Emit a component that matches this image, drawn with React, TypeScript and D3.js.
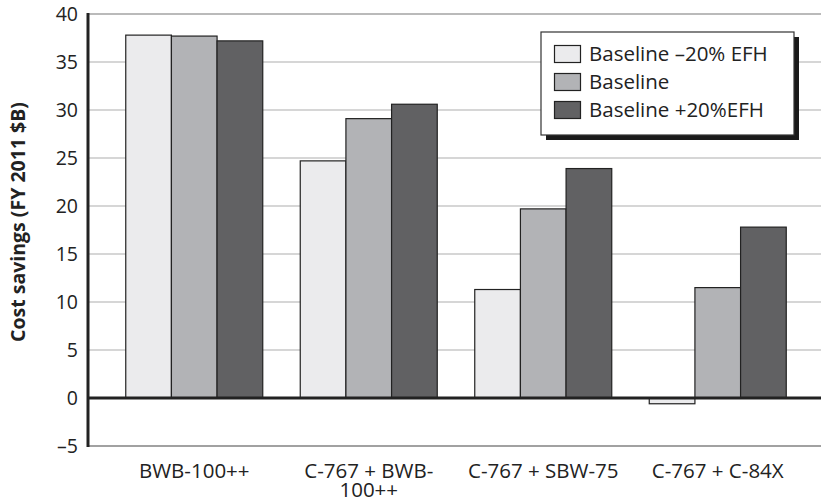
import React from "react";
import * as d3 from "d3";

const categories = ["BWB-100++", "C-767 + BWB-100++", "C-767 + SBW-75", "C-767 + C-84X"];
const categoryLines = [["BWB-100++"], ["C-767 + BWB-", "100++"], ["C-767 + SBW-75"], ["C-767 + C-84X"]];
const seriesNames = ["Baseline \u201320% EFH", "Baseline", "Baseline +20%EFH"];
const lowValues = [37.8, 24.7, 11.3, -0.6];
const baseValues = [37.7, 29.1, 19.7, 11.5];
const highValues = [37.2, 30.6, 23.9, 17.8];
const yTicks = [-5, 0, 5, 10, 15, 20, 25, 30, 35, 40];
const colors = ["#ebebed", "#b2b3b6", "#616163"];

const W = 821;
const H = 501;
const left = 88;
const top = 14;
const bottom = 446;

export default function App() {
  const series = [lowValues, baseValues, highValues];
  const y = d3.scaleLinear().domain([-5, 40]).range([bottom, top]);
  const x = d3.scaleBand<string>().domain(categories).range([107, 805]).padding(0);
  const groupW = 137;
  const inner = d3.scaleBand<number>().domain([0, 1, 2]).range([0, groupW]).padding(0);
  const font = "'Open Sans', 'Noto Sans', sans-serif";

  return (
    <svg width={W} height={H} style={{ position: "absolute", left: 0, top: 0, background: "#fff" }}>
      {/* gridlines */}
      {yTicks.filter((t) => t !== 0 && t !== -5 && t !== 40).map((t) => (
        <line key={t} x1={left} x2={W} y1={y(t)} y2={y(t)} stroke="#adadad" strokeWidth={1.2} />
      ))}
      <line x1={left} x2={W} y1={y(40)} y2={y(40)} stroke="#777" strokeWidth={1.2} />
      <line x1={left} x2={W} y1={y(-5)} y2={y(-5)} stroke="#444" strokeWidth={1.2} />
      {/* bars */}
      {categories.map((c, i) => {
        const gx = (x(c) as number) + (x.bandwidth() - groupW) / 2;
        return series.map((s, j) => {
          const v = s[i];
          const y0 = y(Math.max(0, v));
          const y1 = y(Math.min(0, v));
          return (
            <rect
              key={c + j}
              x={gx + (inner(j) as number)}
              y={y0}
              width={inner.bandwidth()}
              height={y1 - y0}
              fill={colors[j]}
              stroke="#222"
              strokeWidth={1.2}
            />
          );
        });
      })}
      {/* zero line and y axis */}
      <line x1={left} x2={W} y1={y(0)} y2={y(0)} stroke="#222" strokeWidth={3} />
      <line x1={left} x2={left} y1={y(40) - 1} y2={y(-5) + 1} stroke="#222" strokeWidth={3} />
      {/* y tick labels */}
      {yTicks.map((t) => (
        <text key={t} x={78} y={y(t)} dy="0.36em" textAnchor="end" fontFamily={font} fontSize={19.5} fill="#222">
          {t < 0 ? "\u2013" + Math.abs(t) : t}
        </text>
      ))}
      <text
        transform={`translate(25,222) rotate(-90)`}
        textAnchor="middle"
        fontFamily={font}
        fontSize={19.5}
        fontWeight="bold"
        fill="#222"
      >
        Cost savings (FY 2011 $B)
      </text>
      {/* x labels */}
      {categories.map((c, i) => (
        <text key={c} x={(x(c) as number) + x.bandwidth() / 2} y={478} textAnchor="middle" fontFamily={font} fontSize={20.5} fill="#222">
          {categoryLines[i].map((ln, k) => (
            <tspan key={k} x={(x(c) as number) + x.bandwidth() / 2} dy={k === 0 ? 0 : 19}>
              {ln}
            </tspan>
          ))}
        </text>
      ))}
      {/* legend */}
      <rect x={546} y={37} width={253} height={103} fill="#1a1a1a" />
      <rect x={541} y={32} width={253} height={103} fill="#fff" stroke="#333" strokeWidth={1.2} />
      {seriesNames.map((n, j) => (
        <g key={n} transform={`translate(554,${45 + j * 28})`}>
          <rect x={0.5} y={0.5} width={26} height={17} fill={colors[j]} stroke="#222" strokeWidth={1.2} />
          <text x={35} y={9} dy="0.36em" fontFamily={font} fontSize={20.5} fill="#222">
            {n}
          </text>
        </g>
      ))}
    </svg>
  );
}
